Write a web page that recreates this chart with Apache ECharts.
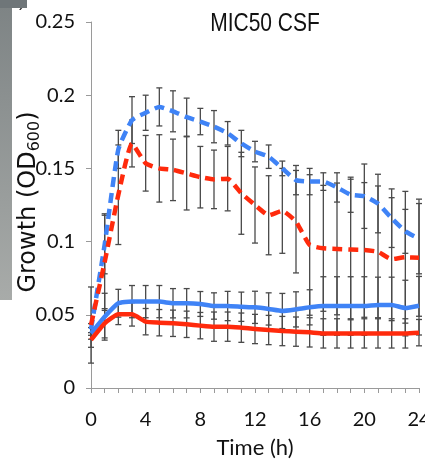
<!DOCTYPE html>
<html><head><meta charset="utf-8">
<script src="https://cdn.jsdelivr.net/npm/echarts@6/dist/echarts.min.js"></script>
<style>html,body{margin:0;padding:0;background:#fff}#c{width:425px;height:462px}</style>
</head><body><div id="c"></div>
<script>
const hours = [0,1,2,3,4,5,6,7,8,9,10,11,12,13,14,15,16,17,18,19,20,21,22,23,24];
const xTickLabels = ['0','4','8','12','16','20','24'];
const yTickLabels = ['0','0.05','0.1','0.15','0.2','0.25'];

const blueDashed = [0.040,0.098,0.163,0.183,0.188,0.192,0.189,0.185,0.182,0.1785,0.174,0.167,0.1615,0.158,0.150,0.142,0.141,0.141,0.137,0.132,0.131,0.126,0.116,0.107,0.102];
const redDashed  = [0.043,0.086,0.132,0.167,0.1535,0.150,0.149,0.1466,0.144,0.1425,0.143,0.133,0.125,0.118,0.121,0.1136,0.0977,0.0954,0.095,0.0946,0.0943,0.093,0.088,0.0893,0.089];
const blueSolid  = [0.0373,0.0487,0.0579,0.059,0.059,0.059,0.0579,0.0579,0.0574,0.056,0.056,0.0555,0.0551,0.054,0.0526,0.0537,0.0551,0.056,0.056,0.056,0.056,0.0567,0.0567,0.0546,0.0562];
const redSolid   = [0.0328,0.0442,0.0503,0.0503,0.0453,0.0446,0.0442,0.0435,0.0426,0.0419,0.0419,0.0412,0.0403,0.0396,0.0389,0.0385,0.038,0.0373,0.0373,0.0373,0.0373,0.0373,0.0373,0.0373,0.0378];

const blueDashedErr = [0.004,0.020,0.013,0.016,0.012,0.013,0.014,0.013,0.009,0.011,0.008,0.009,0.007,0.008,0.005,0.010,0.009,0.006,0.010,0.012,0.022,0.020,0.020,0.015,0.024];
const redDashedErr  = [0.026,0.033,0.034,0.016,0.019,0.023,0.021,0.025,0.021,0.020,0.022,0.028,0.026,0.027,0.029,0.035,0.048,0.043,0.045,0.048,0.046,0.045,0.042,0.045,0.040];
const blueSolidErr  = [0.004,0.016,0.0095,0.011,0.011,0.011,0.010,0.010,0.0085,0.009,0.010,0.010,0.011,0.011,0.012,0.012,0.012,0.020,0.020,0.020,0.020,0.019,0.019,0.019,0.020];
const redSolidErr   = [0.005,0.010,0.007,0.008,0.009,0.009,0.009,0.009,0.009,0.010,0.010,0.010,0.010,0.010,0.010,0.010,0.010,0.010,0.010,0.010,0.010,0.010,0.010,0.010,0.009];

const BLUE = '#3f83f6';
const RED = '#ff2a0c';

function pairs(vals){ return hours.map((h,i)=>[h, vals[i]]); }
function errData(vals, errs){ return hours.map((h,i)=>[h, vals[i]-errs[i], vals[i]+errs[i]]); }

function errSeries(vals, errs){
  return {
    type:'custom', z:1, silent:true,
    data: errData(vals, errs),
    renderItem: function(params, api){
      const x = api.value(0);
      const lo = api.coord([x, api.value(1)]);
      const hi = api.coord([x, api.value(2)]);
      const w = 3;
      const st = {stroke:'#4a4a4a', lineWidth:1.3};
      return {type:'group', children:[
        {type:'line', shape:{x1:lo[0],y1:lo[1],x2:hi[0],y2:hi[1]}, style:st},
        {type:'line', shape:{x1:lo[0]-w,y1:lo[1],x2:lo[0]+w,y2:lo[1]}, style:st},
        {type:'line', shape:{x1:hi[0]-w,y1:hi[1],x2:hi[0]+w,y2:hi[1]}, style:st}
      ]};
    }
  };
}
function lineSeries(vals, color, dashed){
  return {
    type:'line', z:3, data: pairs(vals), symbol:'none', silent:true, smooth:0.15,
    lineStyle:{color:color, width:4.5, type: dashed ? [10,6] : 'solid', cap:'butt', join:'round'}
  };
}

const chart = echarts.init(document.getElementById('c'), null, {renderer:'canvas'});
chart.setOption({
  backgroundColor:'#ffffff',
  animation:false,
  grid:{left:91, right:6, top:22, bottom:74, containLabel:false, outerBoundsMode:'none'},
  xAxis:{type:'value', min:0, max:24, interval:1,
    name:'Time (h)', nameLocation:'middle', nameGap:60,
    nameTextStyle:{fontFamily:'Lato', fontSize:22, color:'#111', verticalAlign:'middle'},
    axisLine:{lineStyle:{color:'#9a9a9a', width:1}},
    axisTick:{length:5, lineStyle:{color:'#9a9a9a'}},
    axisLabel:{margin:22, fontFamily:'Lato', fontSize:20, color:'#111', hideOverlap:false,
      formatter:v => xTickLabels.includes(String(v)) ? String(v) : ''},
    splitLine:{show:false}},
  yAxis:{type:'value', min:0, max:0.25, interval:0.05,
    axisLine:{show:true, lineStyle:{color:'#9a9a9a', width:1}},
    axisTick:{show:true, length:5, lineStyle:{color:'#9a9a9a'}},
    axisLabel:{margin:16, fontFamily:'Lato', fontSize:20, color:'#111',
      formatter:v => { const s = yTickLabels.find(t => Math.abs(parseFloat(t)-v) < 1e-9); return s === undefined ? '' : s; }},
    splitLine:{show:false}},
  graphic:[
    {type:'text', x:265, y:24, scaleX:0.84, z:10,
      style:{text:'MIC50 CSF', font:'25px Liberation Sans', fill:'#111', textAlign:'center', textVerticalAlign:'middle'}},
    {type:'text', x:29, y:202, rotation:Math.PI/2, z:10,
      style:{text:'Growth (OD{sub|600})', fontFamily:'DejaVu Sans', fontSize:24, fill:'#111',
        align:'center', verticalAlign:'middle',
        rich:{sub:{fontFamily:'DejaVu Sans', fontSize:16, fill:'#111', padding:[12,0,0,0]}}}},
    {type:'text', left:9, top:-8, z:10, style:{text:'b)', font:'18px Liberation Sans', fill:'#333'}},
    {type:'rect', shape:{x:0,y:0,width:12,height:300}, z:11,
      style:{fill:new echarts.graphic.LinearGradient(0,0,0,1,[{offset:0,color:'#7d8384'},{offset:1,color:'#a8aba9'}])}},
    {type:'rect', shape:{x:0,y:0,width:27,height:8}, z:12, style:{fill:'#6f7679'}}
  ],
  series:[
    errSeries(blueDashed, blueDashedErr),
    errSeries(redDashed, redDashedErr),
    errSeries(blueSolid, blueSolidErr),
    errSeries(redSolid, redSolidErr),
    lineSeries(blueSolid, BLUE, false),
    lineSeries(redSolid, RED, false),
    lineSeries(blueDashed, BLUE, true),
    lineSeries(redDashed, RED, true)
  ]
});
</script></body></html>
